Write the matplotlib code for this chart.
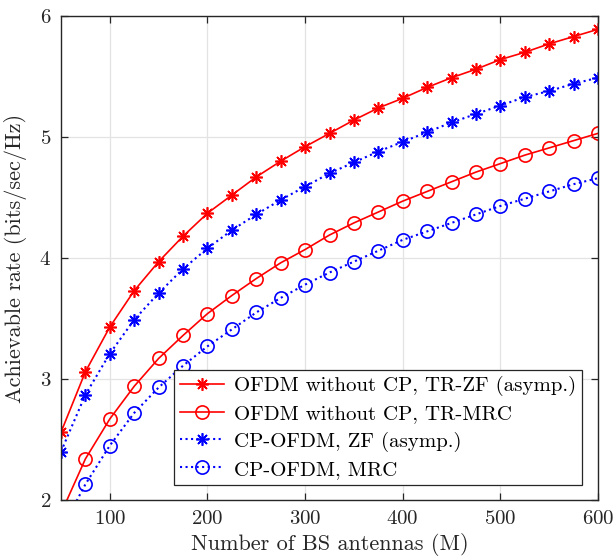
import matplotlib
matplotlib.use("Agg")
import matplotlib.pyplot as plt

# number of BS antennas
M = [50, 75, 100, 125, 150, 175, 200, 225, 250, 275, 300, 325,
     350, 375, 400, 425, 450, 475, 500, 525, 550, 575, 600]

# OFDM without CP, TR-ZF (asymp.)
trzf = [2.56, 3.06, 3.43, 3.73, 3.97, 4.18, 4.37, 4.52, 4.67, 4.80, 4.92, 5.03,
        5.14, 5.24, 5.32, 5.41, 5.49, 5.56, 5.64, 5.70, 5.77, 5.83, 5.89]
# OFDM without CP, TR-MRC
trmrc = [1.89, 2.34, 2.67, 2.94, 3.17, 3.36, 3.54, 3.69, 3.83, 3.96, 4.07, 4.19,
         4.29, 4.38, 4.47, 4.55, 4.63, 4.71, 4.78, 4.85, 4.91, 4.97, 5.03]
# CP-OFDM, ZF (asymp.)
cpzf = [2.40, 2.87, 3.21, 3.49, 3.71, 3.91, 4.08, 4.23, 4.36, 4.48, 4.59, 4.70,
        4.79, 4.88, 4.96, 5.04, 5.12, 5.19, 5.26, 5.33, 5.38, 5.44, 5.49]
# CP-OFDM, MRC
cpmrc = [1.75, 2.13, 2.45, 2.72, 2.93, 3.11, 3.27, 3.41, 3.55, 3.67, 3.78, 3.88,
         3.97, 4.06, 4.15, 4.22, 4.29, 4.36, 4.43, 4.49, 4.55, 4.61, 4.66]

labels = ["OFDM without CP, TR-ZF (asymp.)",
          "OFDM without CP, TR-MRC",
          "CP-OFDM, ZF (asymp.)",
          "CP-OFDM, MRC"]

plt.rcParams["font.family"] = "cmr10"
plt.rcParams["axes.formatter.use_mathtext"] = True

fig = plt.figure(figsize=(6.13, 5.59), dpi=100)
ax = fig.add_axes([61/613, 1-500/559, 537/613, 484/559])

star = (8, 2, 0)
ax.plot(M, trzf, color="red", lw=1.2, marker=star, ms=9, mew=1.2, label=labels[0])
ax.plot(M, trmrc, color="red", lw=1.2, marker="o", ms=9.5, mfc="none", mew=1.2, label=labels[1])
ax.plot(M, cpzf, color="blue", lw=1.5, ls=":", marker=star, ms=9, mew=1.2, label=labels[2])
ax.plot(M, cpmrc, color="blue", lw=1.5, ls=":", marker="o", ms=9.5, mfc="none", mew=1.2, label=labels[3])

ax.set_xlim(50, 600)
ax.set_ylim(2, 6)
ax.set_xticks([100, 200, 300, 400, 500, 600])
ax.set_yticks([2, 3, 4, 5, 6])
ax.grid(True, color="#e3e3e3", lw=0.9)
ax.set_axisbelow(True)
ax.tick_params(direction="in", top=True, right=True, length=5, width=0.9,
               colors="#262626", labelsize=15, pad=7)
for s in ax.spines.values():
    s.set_color("#262626")
    s.set_linewidth(1.0)

ax.set_xlabel("Number of BS antennas (M)", fontsize=16, color="#262626", labelpad=4)
ax.set_ylabel("Achievable rate (bits/sec/Hz)", fontsize=16, color="#262626", labelpad=9)

leg = ax.legend(loc="lower right", bbox_to_anchor=(0.97, 0.031), fontsize=15,
                fancybox=False, framealpha=1, edgecolor="#262626",
                handlelength=2.1, handletextpad=0.45, borderpad=0.3,
                labelspacing=0.4, borderaxespad=0)
leg.get_frame().set_linewidth(0.9)

fig.savefig("out.png", dpi=100)
